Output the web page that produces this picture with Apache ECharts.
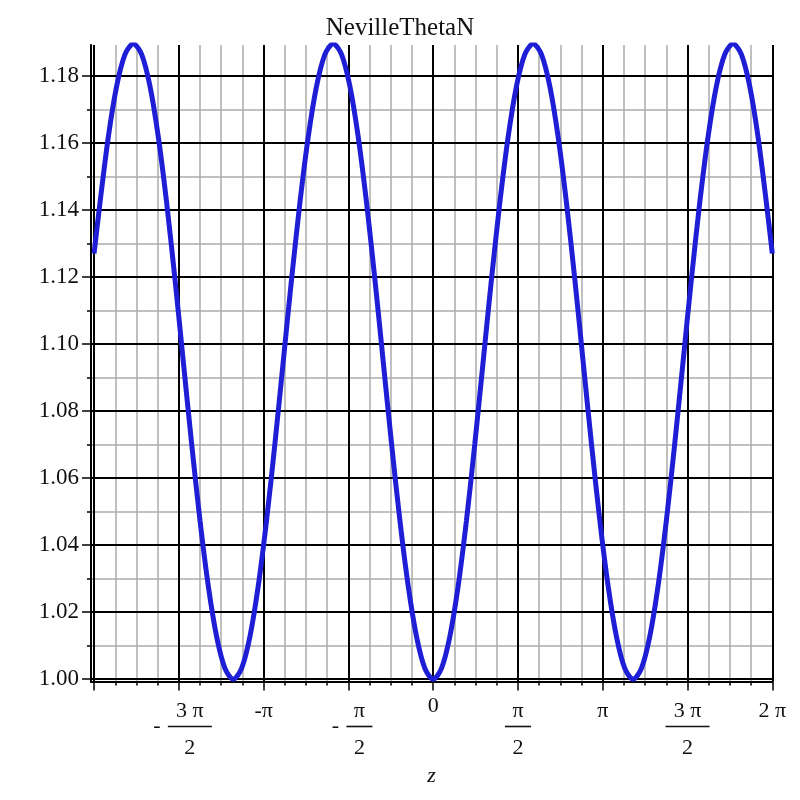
<!DOCTYPE html>
<html>
<head>
<meta charset="utf-8">
<script src="https://cdn.jsdelivr.net/npm/echarts@6/dist/echarts.min.js"></script>
<style>
html, body { margin: 0; padding: 0; background: #ffffff; }
#chart { width: 800px; height: 800px; }
</style>
</head>
<body>
<div id="chart"></div>
<script>
// ---- data ----
const zValues = [
  -6.2832, -6.173, -6.019, -5.865, -5.710, -5.556, -5.402, -5.247, -5.093, -4.939,
  -4.784, -4.630, -4.476, -4.321, -4.167, -4.013, -3.858, -3.704, -3.550, -3.395,
  -3.241, -3.087, -2.932, -2.778, -2.624, -2.469, -2.315, -2.161, -2.006, -1.852,
  -1.698, -1.543, -1.389, -1.235, -1.080, -0.926, -0.772, -0.617, -0.463, -0.309,
  -0.154, 0.000, 0.154, 0.309, 0.463, 0.617, 0.772, 0.926, 1.080, 1.235,
  1.389, 1.543, 1.698, 1.852, 2.006, 2.161, 2.315, 2.469, 2.624, 2.778,
  2.932, 3.087, 3.241, 3.395, 3.550, 3.704, 3.858, 4.013, 4.167, 4.321,
  4.476, 4.630, 4.784, 4.939, 5.093, 5.247, 5.402, 5.556, 5.710, 5.865,
  6.019, 6.173, 6.2832
];
const thetaValues = [
  1.1270, 1.1422, 1.1618, 1.1769, 1.1864, 1.1896, 1.1864, 1.1769, 1.1618, 1.1422,
  1.1193, 1.0948, 1.0703, 1.0474, 1.0278, 1.0127, 1.0032, 1.0000, 1.0032, 1.0127,
  1.0278, 1.0474, 1.0703, 1.0948, 1.1193, 1.1422, 1.1618, 1.1769, 1.1864, 1.1896,
  1.1864, 1.1769, 1.1618, 1.1422, 1.1193, 1.0948, 1.0703, 1.0474, 1.0278, 1.0127,
  1.0032, 1.0000, 1.0032, 1.0127, 1.0278, 1.0474, 1.0703, 1.0948, 1.1193, 1.1422,
  1.1618, 1.1769, 1.1864, 1.1896, 1.1864, 1.1769, 1.1618, 1.1422, 1.1193, 1.0948,
  1.0703, 1.0474, 1.0278, 1.0127, 1.0032, 1.0000, 1.0032, 1.0127, 1.0278, 1.0474,
  1.0703, 1.0948, 1.1193, 1.1422, 1.1618, 1.1769, 1.1864, 1.1896, 1.1864, 1.1769,
  1.1618, 1.1422, 1.1270
];
const yMajorTicks = [1.00, 1.02, 1.04, 1.06, 1.08, 1.10, 1.12, 1.14, 1.16, 1.18];
const yMinorTicks = [1.01, 1.03, 1.05, 1.07, 1.09, 1.11, 1.13, 1.15, 1.17];
// x ticks in multiples of pi/2 (major) and pi/8 (minor)
const xMajorMultiples = [-4, -3, -2, -1, 0, 1, 2, 3, 4];
const xLabelMultiples = [-3, -2, -1, 0, 1, 2, 3, 4];
const xMinorMultiples = [-15, -14, -13, -11, -10, -9, -7, -6, -5, -3, -2, -1,
                          1, 2, 3, 5, 6, 7, 9, 10, 11, 13, 14, 15];
const xTickLabels = [
  '{sp|}{nL|3 π}\n{m|-}{barL|}\n{sp|}{dL|2}',
  '{t|-π}',
  '{sp|}{nS|π}\n{m|-}{barS|}\n{sp|}{dS|2}',
  '{zr|0}',
  '{nS|π}\n{barS|}\n{dS|2}',
  '{t|π}',
  '{nL|3 π}\n{barL|}\n{dL|2}',
  '{t|2 π}'
];
const titleText = 'NevilleThetaN';
const xName = 'z';

// ---- chart ----
const PI = Math.PI;
const FONT = '"Liberation Serif", "Times New Roman", serif';
const xMin = -6.34, xMax = 2 * PI;
const yMin = 0.9993, yMax = 1.1892;
const LC = '#111111';
const base = { fontFamily: FONT, fontSize: 22, color: LC, align: 'center' };

const chart = echarts.init(document.getElementById('chart'), null, { renderer: 'canvas' });
const option = {
  backgroundColor: '#ffffff',
  animation: false,
  title: {
    text: titleText, left: 'center', top: 11,
    textStyle: { fontFamily: FONT, fontSize: 25, fontWeight: 'normal', color: LC }
  },
  grid: { left: 91, right: 27.7, top: 45, bottom: 118.5, containLabel: false },
  xAxis: [
    {
      type: 'value', min: xMin, max: xMax, position: 'bottom', z: 0,
      axisLine: { show: true, onZero: false, lineStyle: { color: '#000', width: 2 } },
      axisTick: { show: true, customValues: xMinorMultiples.map(k => k * PI / 8), length: 4,
                  lineStyle: { color: '#000', width: 1.5 } },
      axisLabel: { show: false },
      splitLine: { show: true, lineStyle: { color: '#ababab', width: 1.5 } }
    },
    {
      type: 'value', min: xMin, max: xMax, position: 'bottom', z: 1,
      axisLine: { show: true, onZero: false, lineStyle: { color: '#000', width: 2 } },
      axisTick: { show: true, customValues: xMajorMultiples.map(k => k * PI / 2), length: 9,
                  lineStyle: { color: '#000', width: 1.5 } },
      axisLabel: {
        show: true, margin: 19,
        customValues: xLabelMultiples.map(k => k * PI / 2),
        fontFamily: FONT, fontSize: 22, color: LC,
        formatter: function (v) {
          const k = Math.round(v / (PI / 2));
          const i = xLabelMultiples.indexOf(k);
          return i >= 0 ? xTickLabels[i] : '';
        },
        rich: {
          t: Object.assign({}, base, { lineHeight: 22 }),
          zr: Object.assign({}, base, { lineHeight: 12 }),
          nL: Object.assign({}, base, { width: 44, lineHeight: 22 }),
          nS: Object.assign({}, base, { width: 26, lineHeight: 22 }),
          dL: Object.assign({}, base, { width: 44, lineHeight: 35 }),
          dS: Object.assign({}, base, { width: 26, lineHeight: 35 }),
          m: Object.assign({}, base, { width: 22, lineHeight: 8 }),
          sp: { width: 22, lineHeight: 1, align: 'center' },
          barL: { width: 44, height: 1.6, backgroundColor: LC, lineHeight: 8, align: 'center' },
          barS: { width: 26, height: 1.6, backgroundColor: LC, lineHeight: 8, align: 'center' }
        }
      },
      splitLine: { show: true, lineStyle: { color: '#000', width: 2 } },
      name: xName, nameLocation: 'middle', nameGap: 84,
      nameTextStyle: { fontFamily: FONT, fontStyle: 'italic', fontSize: 22, color: LC }
    }
  ],
  yAxis: [
    {
      type: 'value', min: yMin, max: yMax, position: 'left', z: 1,
      axisLine: { show: true, onZero: false, lineStyle: { color: '#000', width: 2 } },
      axisTick: { show: true, customValues: yMajorTicks, length: 9, lineStyle: { color: '#000', width: 1.5 } },
      axisLabel: {
        show: true, customValues: yMajorTicks, margin: 12,
        fontFamily: FONT, fontSize: 23, color: LC,
        formatter: v => v.toFixed(2)
      },
      splitLine: { show: true, lineStyle: { color: '#000', width: 2 } }
    },
    {
      type: 'value', min: yMin, max: yMax, position: 'left', z: 0,
      axisLine: { show: false, onZero: false },
      axisTick: { show: true, customValues: yMinorTicks, length: 4, lineStyle: { color: '#000', width: 1.5 } },
      axisLabel: { show: false },
      splitLine: { show: true, lineStyle: { color: '#ababab', width: 1.5 } }
    }
  ],
  series: [
    {
      type: 'line', xAxisIndex: 1, yAxisIndex: 0, z: 3,
      data: zValues.map((z, i) => [z, thetaValues[i]]),
      showSymbol: false, smooth: 0.3, clip: true,
      lineStyle: { color: '#1e1ed6', width: 5 }
    }
  ]
};
chart.setOption(option);
</script>
</body>
</html>
